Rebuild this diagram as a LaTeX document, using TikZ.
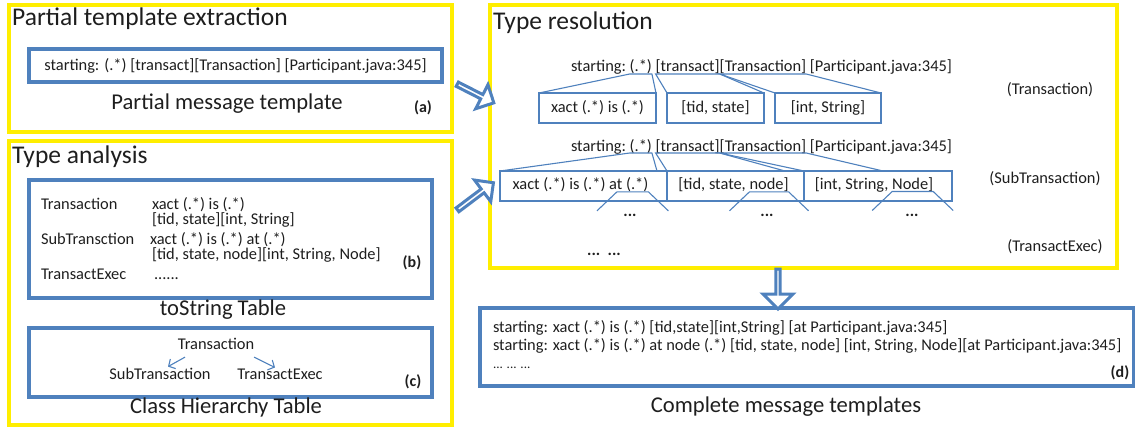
\documentclass[tikz,border=0pt]{standalone}
\usepackage{fontspec}
\setmainfont{Carlito}
\usetikzlibrary{shapes.arrows,arrows.meta,calc}
\definecolor{ublue}{RGB}{79,129,189}
\definecolor{uyel}{RGB}{255,238,0}
\definecolor{txt}{RGB}{30,30,30}
\newcommand\txtsz{\fontsize{16.4}{19}\selectfont}
\newlength\spw
\newlength\tmpw
\newlength\wq
\newlength\wn
\newlength\wN
\tikzset{
  ybox/.style={draw=uyel, line width=4pt, inner sep=0pt, outer sep=0pt, anchor=north west},
  bbox/.style={draw=ublue, line width=3.3pt, inner sep=0pt, outer sep=0pt, anchor=north west, font=\txtsz, text=txt},
  tbox/.style={draw=ublue, line width=1.1pt, inner sep=0pt, outer sep=0pt, anchor=north west, minimum height=30pt, font=\txtsz, text=txt},
  tl/.style={draw=ublue, line width=1.1pt},
  ttltxt/.style={font=\fontsize{25.5}{30}\selectfont, text=txt, inner sep=0pt, anchor=base west},
  captxt/.style={font=\fontsize{22.6}{27}\selectfont, text=txt, inner sep=0pt, anchor=base},
  sm/.style={font=\txtsz, text=txt, inner sep=0pt, outer sep=0pt, anchor=base west},
  labtxt/.style={font=\fontsize{16}{19}\selectfont\bfseries, text=txt, inner sep=0pt, anchor=base},
  dotstxt/.style={font=\txtsz\bfseries, text=txt, inner sep=0pt, anchor=base},
  barrow/.style={single arrow, draw=ublue, fill=white, line width=3pt, inner sep=0pt, outer sep=0pt, single arrow head extend=7pt, minimum width=27pt},
  harr/.style={draw=ublue, line width=1.1pt, -{Straight Barb[length=5pt,width=11pt]}},
}
\begin{document}
\settowidth{\spw}{\txtsz a b}\settowidth{\tmpw}{\txtsz ab}\addtolength{\spw}{-\tmpw}%
\settowidth{\wq}{\txtsz t (.*)}%
\settowidth{\wn}{\txtsz node]}%
\settowidth{\wN}{\txtsz Node]}%
\begin{tikzpicture}[x=1pt,y=-1pt]
\useasboundingbox (0,0) rectangle (1135,428);

% panels
\node[ybox, minimum width=443pt, minimum height=127pt] (pA) at (9,5) {};
\node[ybox, minimum width=443pt, minimum height=284pt] (pB) at (9,141) {};
\node[ybox, minimum width=627pt, minimum height=263pt] (pC) at (490,5) {};
\node[ttltxt] (tA) at (12,26) {Partial template extraction};
\node[ttltxt] (tB) at (12,163) {Type analysis};
\node[ttltxt] (tC) at (493,30) {Type resolution};

% (a)
\node[bbox, minimum width=413pt, minimum height=33pt] (ba) at (29,49) {starting: (.*) [transact][Transaction] [Participant.java:345]};
\node[captxt] (ca) at (227,110) {Partial message template};
\node[labtxt] (la) at (423,112) {(a)};

% (b)
\node[bbox, minimum width=403pt, minimum height=118pt] (bb) at (29,180) {};
\node[sm] (k1) at (41,209) {Transaction};
\node[sm] (v1) at (152,209) {xact (.*) is (.*)};
\node[sm] (v1b) at (152,224) {[tid, state][int, String]};
\node[sm] (k2) at (41,244) {SubTransction};
\node[sm] (v2) at (150,244) {xact (.*) is (.*) at (.*)};
\node[sm] (v2b) at (152,259) {[tid, state, node][int, String, Node]};
\node[sm] (k3) at (41,279) {TransactExec};
\node[sm] (v3) at (154,279) {......};
\node[labtxt] (lb) at (412,267) {(b)};
\node[captxt] (cb) at (223,315) {toString Table};

% (c)
\node[bbox, minimum width=403pt, minimum height=69pt] (bc) at (29,328) {};
\node[sm, anchor=base] (h1) at (216,349) {Transaction};
\node[sm, anchor=base] (h2) at (160,379) {SubTransaction};
\node[sm, anchor=base] (h3) at (280,379) {TransactExec};
\draw[harr] ($(h1.south)+(-31,8)$) -- ($(h2.north)+(8,-1)$);
\draw[harr] ($(h1.south)+(38,8)$) -- ($(h3.north)+(-5,-1)$);
\node[labtxt] (lc) at (413,386) {(c)};
\node[captxt] (cc) at (226,413) {Class Hierarchy Table};

% type resolution, row 1
\node[sm] (r1a) at (571,72) {starting:};
\node[sm] (r1b) at ($(r1a.base east)+(\spw,0pt)$) {(.*)};
\node[sm] (r1c) at ($(r1b.base east)+(\spw,0pt)$) {[transact]};
\node[sm] (r1d) at (r1c.base east) {[Transaction]};
\node[sm] (r1e) at ($(r1d.base east)+(\spw,0pt)$) {[Participant.java:345]};
\node[tbox, minimum width=117pt] (x1) at (539,93) {xact (.*) is (.*)};
\node[tbox, minimum width=97pt] (x2) at (667,93) {[tid, state]};
\node[tbox, minimum width=106pt] (x3) at (775,93) {[int, String]};
\draw[tl] (x1.north west) -- ($(r1b.base west)+(0,2)$) -- ($(r1b.base east)+(0,2)$) -- (x1.north east);
\draw[tl] (x2.north west) -- ($(r1c.base west)+(0,2)$) -- ($(r1c.base east)+(0,2)$) -- (x2.north east);
\draw[tl] (x3.north west) -- ($(r1d.base west)+(0,2)$) -- ($(r1d.base east)+(0,2)$) -- (x3.north east);
\node[sm, anchor=base] (n1) at (1050,94) {(Transaction)};

% type resolution, row 2
\node[sm] (r2a) at (571,151) {starting:};
\node[sm] (r2b) at ($(r2a.base east)+(\spw,0pt)$) {(.*)};
\node[sm] (r2c) at ($(r2b.base east)+(\spw,0pt)$) {[transact]};
\node[sm] (r2d) at (r2c.base east) {[Transaction]};
\node[sm] (r2e) at ($(r2d.base east)+(\spw,0pt)$) {[Participant.java:345]};
\node[tbox, minimum width=167pt] (y1) at (500,171) {};
\node[tbox, minimum width=137pt] (y2) at (667,171) {};
\node[tbox, minimum width=148pt] (y3) at (804,171) {};
\node[sm, anchor=center] (y1t) at ($(y1.center)+(-3,-1)$) {xact (.*) is (.*) at (.*)};
\node[sm, anchor=center] (y2t) at ($(y2.center)+(-2,-1)$) {[tid, state, node]};
\node[sm, anchor=center] (y3t) at ($(y3.center)+(-4,-1)$) {[int, String, Node]};
\draw[tl] (y1.north west) -- ($(r2b.base west)+(0,2)$) -- ($(r2b.base east)+(0,2)$) -- ($(y1.north east)+(-10,0)$);
\draw[tl] (y2.north west) -- ($(r2c.base west)+(0,2)$) -- ($(r2c.base east)+(0,2)$) -- ($(y2.north east)+(-19,0)$);
\draw[tl] (y3.north west) -- ($(r2d.base west)+(0,2)$) -- ($(r2d.base east)+(0,2)$) -- ($(y3.north east)+(-69,0)$);
\node[sm, anchor=base] (n2) at (1045,183) {(SubTransaction)};

\coordinate (f1L) at ($(y1t.base east)+(-\wq,-2pt)$);
\coordinate (f1R) at ($(y1t.base east)+(0pt,-2pt)$);
\coordinate (f2L) at ($(y2t.base east)+(-\wn,-2pt)$);
\coordinate (f2R) at ($(y2t.base east)+(0pt,-2pt)$);
\coordinate (f3L) at ($(y3t.base east)+(-\wN,-2pt)$);
\coordinate (f3R) at ($(y3t.base east)+(0pt,-2pt)$);
\draw[tl] ($(f1L)+(-20,19)$) -- (f1L) -- (f1R) -- ($(f1R)+(20,19)$);
\draw[tl] ($(f2L)+(-20,19)$) -- (f2L) -- (f2R) -- ($(f2R)+(20,19)$);
\draw[tl] ($(f3L)+(-20,19)$) -- (f3L) -- (f3R) -- ($(f3R)+(20,19)$);
\node[dotstxt] (d1) at (630,216) {...};
\node[dotstxt] (d2) at (767,216) {...};
\node[dotstxt] (d3) at (912,216) {...};
\node[dotstxt] (d4) at (604,255) {...\ \ ...};
\node[sm, anchor=base] (n3) at (1055,251) {(TransactExec)};

% (d)
\node[bbox, minimum width=654pt, minimum height=78pt] (bd) at (480,308) {};
\node[sm] (o1) at (493,332) {starting: xact (.*) is (.*) [tid,state][int,String] [at Participant.java:345]};
\node[sm] (o2) at (493,350) {starting: xact (.*) is (.*) at node (.*) [tid, state, node] [int, String, Node][at Participant.java:345]};
\node[sm, font=\fontsize{13}{15}\selectfont] (o3) at (493,368) {... ... ...};
\node[labtxt] (ld) at (1120,377) {(d)};
\node[captxt] (cd) at (786,412) {Complete message templates};

% block arrows
\node[barrow, minimum height=41pt, rotate=-27] (ar1) at (474.5,93) {};
\node[barrow, minimum height=45pt, rotate=37] (ar2) at (474.5,197) {};
\node[barrow, minimum height=40pt, minimum width=30pt, single arrow head extend=9pt, rotate=-90] (ar3) at (778,288) {};
\end{tikzpicture}
\end{document}
